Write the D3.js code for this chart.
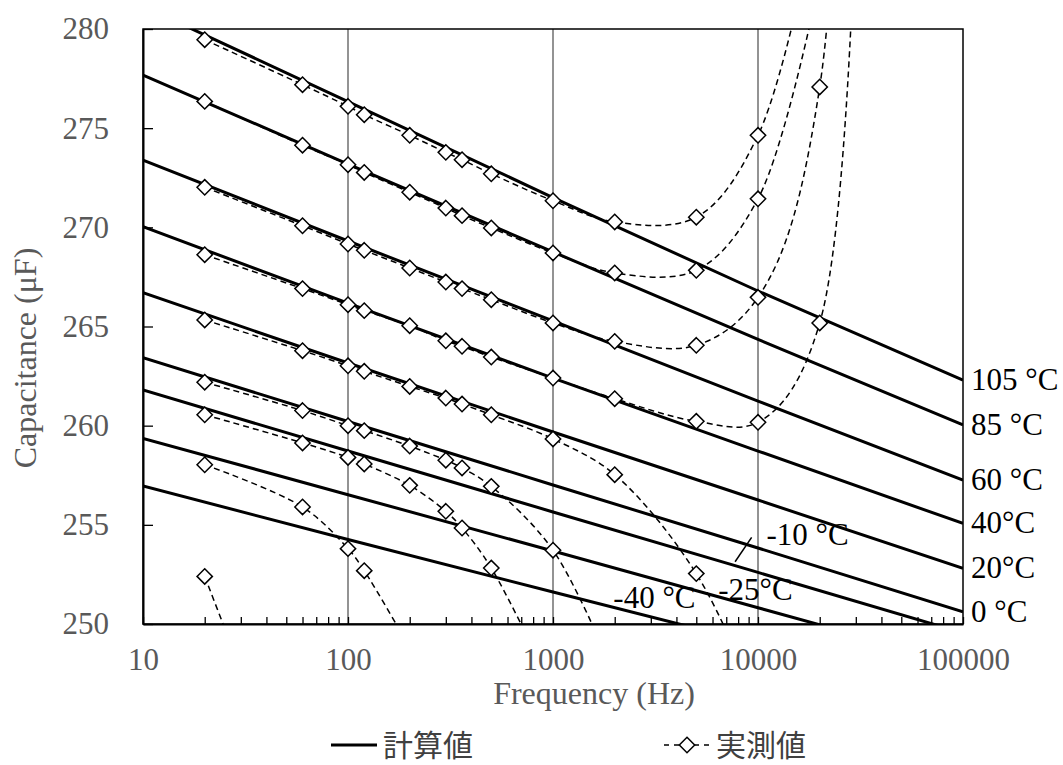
<!DOCTYPE html>
<meta charset="utf-8">
<style>
body { margin: 0; background: #fff; }
svg text { font-family: "Liberation Serif", "Times New Roman", serif; }
</style>
<body>
<script src="https://d3js.org/d3.v7.min.js"></script>
<script>

// calculated capacitance (solid lines), read at each decade
var calcFreq = [10, 100, 1000, 10000, 100000];
var calc105 = [281.15, 276.34, 271.50, 266.79, 262.30];
var calc85  = [277.68, 273.19, 268.76, 264.35, 260.04];
var calc60  = [273.39, 269.31, 265.28, 261.24, 257.26];
var calc40  = [270.03, 266.18, 262.40, 258.72, 255.07];
var calc20  = [266.70, 263.16, 259.68, 256.25, 252.81];
var calc0   = [263.43, 260.21, 257.01, 253.83, 250.62];
var calcM10 = [261.80, 258.72, 255.65, 252.60, 249.55];
var calcM25 = [259.36, 256.52, 253.68, 250.82, 247.96];
var calcM40 = [256.96, 254.26, 251.61, 248.99, 246.42];

// measured capacitance (dashed + diamonds); last values run off the chart
var measFreq = [20, 60, 100, 120, 200, 300, 360, 500, 1000, 2000, 5000, 10000, 20000, 30000];
var meas105 = [279.46, 277.19, 276.10, 275.68, 274.64, 273.78, 273.41, 272.70, 271.34, 270.27, 270.51, 274.64, 286.5];
var meas85  = [276.35, 274.14, 273.16, 272.77, 271.77, 270.97, 270.59, 269.97, 268.71, 267.70, 267.83, 271.44, 282.5];
var meas60  = [272.02, 270.08, 269.16, 268.84, 267.95, 267.24, 266.91, 266.35, 265.18, 264.25, 264.05, 266.47, 277.08, 380.0];
var meas40  = [268.62, 266.91, 266.10, 265.80, 265.04, 264.28, 264.00, 263.46, 262.40, 261.36, 260.22, 260.17, 265.18, 380.0];
var meas20  = [265.33, 263.78, 263.02, 262.74, 261.98, 261.39, 261.09, 260.55, 259.33, 257.53, 252.54, 246.0];
var meas0   = [262.19, 260.76, 260.00, 259.75, 258.97, 258.26, 257.87, 256.94, 253.72, 247.4];
var measM10 = [260.55, 259.13, 258.40, 258.07, 256.99, 255.68, 254.84, 252.82, 246.7];
var measM25 = [258.03, 255.90, 253.80, 252.69, 248.8];
var measM40 = [252.40, 239.6];

var calcSeries = [calc105, calc85, calc60, calc40, calc20, calc0, calcM10, calcM25, calcM40];
var measSeries = [meas105, meas85, meas60, meas40, meas20, meas0, measM10, measM25, measM40];

// labels at the right edge (first six lines) and inside the plot
var rightLabels = ["105 °C", "85 °C", "60 °C", "40°C", "20°C", "0 °C"];
var yTicks = [250, 255, 260, 265, 270, 275, 280];
var xLabels = [10, 100, 1000, 10000, 100000];

var width = 1063, height = 765;
var pLeft = 143, pRight = 963, pTop = 29, pBottom = 624;

var svg = d3.select("body").append("svg")
    .attr("width", width)
    .attr("height", height);

var x = d3.scaleLog().domain([10, 100000]).range([pLeft, pRight]);
var y = d3.scaleLinear().domain([250, 280]).range([pBottom, pTop]);

svg.append("defs").append("clipPath").attr("id", "plot")
  .append("rect")
    .attr("x", pLeft).attr("y", pTop)
    .attr("width", pRight - pLeft).attr("height", pBottom - pTop);

// vertical gridlines at 100, 1000, 10000
svg.selectAll(".grid")
    .data([100, 1000, 10000])
  .enter().append("line")
    .attr("x1", function(d){ return x(d); })
    .attr("x2", function(d){ return x(d); })
    .attr("y1", pTop).attr("y2", pBottom)
    .attr("stroke", "#595959")
    .attr("stroke-width", 1.3);

// x axis with minor ticks pointing up
var xTickVals = [];
for (var e = 10; e < 100000; e *= 10) {
    for (var m = 1; m < 10; m++) xTickVals.push(e * m);
}
xTickVals.push(100000);

var xAxis = svg.append("g")
    .attr("transform", "translate(0," + pBottom + ")")
    .call(d3.axisBottom(x)
        .tickValues(xTickVals)
        .tickSize(-7)
        .tickSizeOuter(0)
        .tickPadding(24)
        .tickFormat(function(d){ return xLabels.indexOf(d) >= 0 ? d : ""; }));

var yAxis = svg.append("g")
    .attr("transform", "translate(" + pLeft + ",0)")
    .call(d3.axisLeft(y)
        .tickValues(yTicks)
        .tickSize(-10)
        .tickSizeOuter(0)
        .tickPadding(34));

[xAxis, yAxis].forEach(function(g) {
    g.select(".domain").attr("stroke", "#000").attr("stroke-width", 2);
    g.selectAll(".tick line").attr("stroke", "#000").attr("stroke-width", 1.3);
    g.selectAll(".tick text")
        .attr("fill", "#595959")
        .style("font-size", "31px")
        .style("font-family", "'Liberation Serif', serif");
});

// plot border (top, right)
svg.append("rect")
    .attr("x", pLeft).attr("y", pTop)
    .attr("width", pRight - pLeft).attr("height", pBottom - pTop)
    .attr("fill", "none")
    .attr("stroke", "#000")
    .attr("stroke-width", 1.5);

// axis titles
svg.append("text")
    .attr("x", 594)
    .attr("y", 704)
    .attr("text-anchor", "middle")
    .attr("fill", "#595959")
    .style("font-size", "32px")
    .text("Frequency (Hz)");

svg.append("text")
    .attr("transform", "translate(36,358) rotate(-90)")
    .attr("text-anchor", "middle")
    .attr("fill", "#595959")
    .style("font-size", "32px")
    .text("Capacitance (μF)");

var plot = svg.append("g").attr("clip-path", "url(#plot)");

// calculated lines
var calcLine = d3.line()
    .x(function(d, i){ return x(calcFreq[i]); })
    .y(function(d){ return y(d); });

plot.selectAll(".calc")
    .data(calcSeries)
  .enter().append("path")
    .attr("d", calcLine)
    .attr("fill", "none")
    .attr("stroke", "#000")
    .attr("stroke-width", 3);

// measured curves
var measLine = d3.line()
    .x(function(d, i){ return x(measFreq[i]); })
    .y(function(d){ return y(d); })
    .curve(d3.curveCatmullRom.alpha(0.5));

plot.selectAll(".meas")
    .data(measSeries)
  .enter().append("path")
    .attr("d", measLine)
    .attr("fill", "none")
    .attr("stroke", "#000")
    .attr("stroke-width", 1.5)
    .attr("stroke-dasharray", "6,4");

var diamond = d3.symbol().type(d3.symbolDiamond2).size(150);

measSeries.forEach(function(s) {
    var pts = s.map(function(v, i){ return {f: measFreq[i], v: v}; })
        .filter(function(p){ return p.v >= 250 && p.v <= 280; });
    svg.selectAll(null)
        .data(pts)
      .enter().append("path")
        .attr("d", diamond)
        .attr("transform", function(p){ return "translate(" + x(p.f) + "," + y(p.v) + ")"; })
        .attr("fill", "#fff")
        .attr("stroke", "#000")
        .attr("stroke-width", 1.5);
});

// right-edge temperature labels
svg.selectAll(".rlab")
    .data(rightLabels)
  .enter().append("text")
    .attr("x", pRight + 8)
    .attr("y", function(d, i){ return y(calcSeries[i][calcSeries[i].length - 1]) + 10; })
    .attr("fill", "#000")
    .style("font-size", "31px")
    .text(function(d){ return d; });

// inside labels for the low temperatures
var insideLabels = [
    {t: "-10 °C", f: 11000, v: 253.98},
    {t: "-25°C", f: 6400, v: 251.21},
    {t: "-40 °C", f: 1970, v: 250.81}
];
svg.selectAll(".ilab")
    .data(insideLabels)
  .enter().append("text")
    .attr("x", function(d){ return x(d.f); })
    .attr("y", function(d){ return y(d.v); })
    .attr("fill", "#000")
    .style("font-size", "31px")
    .text(function(d){ return d.t; });

svg.append("line")
    .attr("x1", x(7730)).attr("y1", y(253.14))
    .attr("x2", x(9310)).attr("y2", y(254.37))
    .attr("stroke", "#000")
    .attr("stroke-width", 1.5);

// legend
var ly = 745;
svg.append("line")
    .attr("x1", 331).attr("x2", 377)
    .attr("y1", ly).attr("y2", ly)
    .attr("stroke", "#000").attr("stroke-width", 3);
svg.append("text")
    .attr("x", 383).attr("y", ly + 11)
    .attr("fill", "#404040")
    .style("font-family", "'Noto Sans CJK JP', sans-serif")
    .style("font-size", "30px")
    .text("計算値");

svg.append("line")
    .attr("x1", 664).attr("x2", 711)
    .attr("y1", ly).attr("y2", ly)
    .attr("stroke", "#000").attr("stroke-width", 1.5)
    .attr("stroke-dasharray", "5,5");
svg.append("path")
    .attr("d", diamond)
    .attr("transform", "translate(687," + ly + ")")
    .attr("fill", "#fff")
    .attr("stroke", "#000")
    .attr("stroke-width", 1.5);
svg.append("text")
    .attr("x", 716).attr("y", ly + 11)
    .attr("fill", "#404040")
    .style("font-family", "'Noto Sans CJK JP', sans-serif")
    .style("font-size", "30px")
    .text("実測値");

</script>
</body>
